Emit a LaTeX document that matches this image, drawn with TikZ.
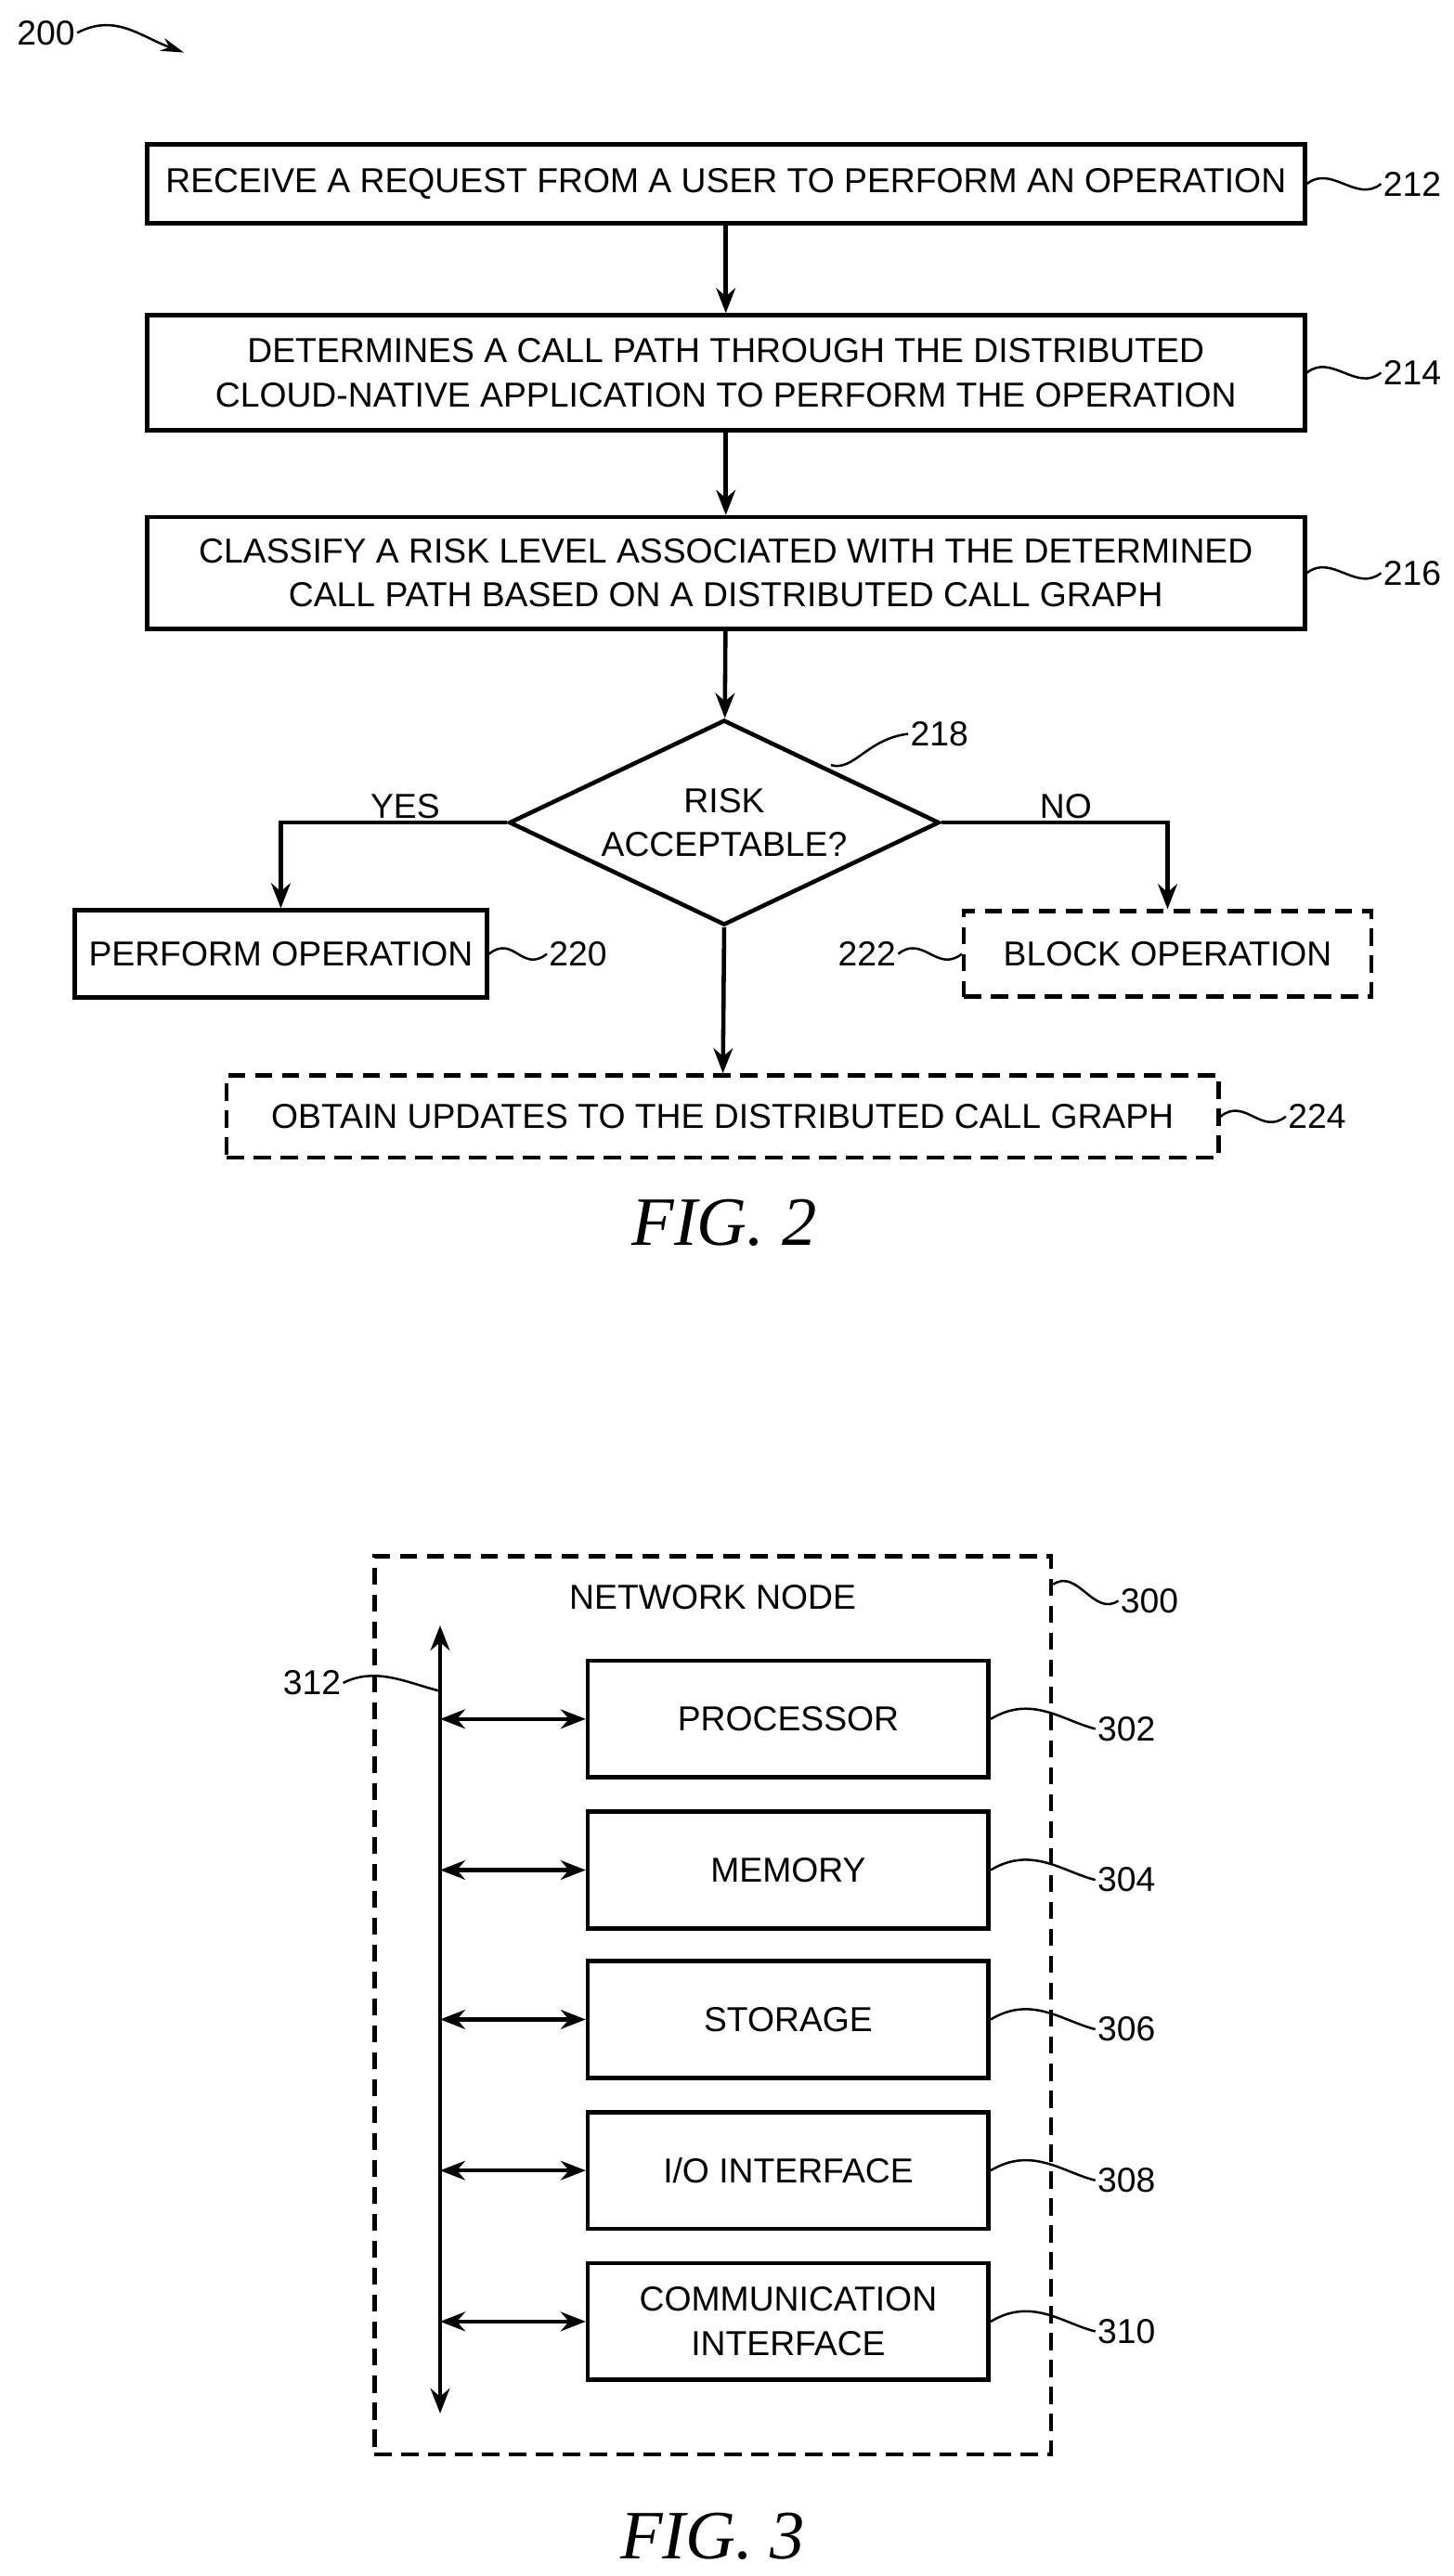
\documentclass[tikz,border=0pt]{standalone}
\usepackage{fontspec}
\setmainfont{Liberation Sans}
\newfontfamily\figfont{Liberation Serif}
\usetikzlibrary{shapes.geometric,positioning,arrows.meta}
\tikzset{
  box/.style={draw, line width=2.2pt, minimum height=1.5cm, align=center, font=\fontsize{18}{23}\selectfont},
  dbox/.style={box, dash pattern=on 9pt off 5pt},
  ref/.style={font=\fontsize{18}{22}\selectfont, inner sep=1pt},
  lead/.style={line width=1.2pt},
  flow/.style={line width=2.2pt, -{Stealth[length=13pt,width=10pt]}},
  bus/.style={line width=2.2pt, {Stealth[length=13pt,width=10pt]}-{Stealth[length=13pt,width=10pt]}},
  figcap/.style={font=\figfont\itshape\fontsize{36}{40}\selectfont}
}
\begin{document}
\begin{tikzpicture}[x=0.03cm, y=-0.03cm]
  \useasboundingbox (0,0) rectangle (885,1569);
  % FIG. 2 flow
  \node[ref] (l200) at (28,20) {200};
  \coordinate (p200) at (112,32);
  \draw[lead, -{Stealth[length=12pt,width=7pt]}] (l200.east) .. controls (70,8) and (85,22) .. (p200);
  \node[box, minimum width=21.15cm, minimum height=1.44cm] (s212) at (442,112) {RECEIVE A REQUEST FROM A USER TO PERFORM AN OPERATION};
  \node[box, minimum width=21.15cm, minimum height=2.1cm] (s214) at (442,227) {DETERMINES A CALL PATH THROUGH THE DISTRIBUTED\\CLOUD-NATIVE APPLICATION TO PERFORM THE OPERATION};
  \node[box, minimum width=21.15cm, minimum height=2.04cm] (s216) at (442,349) {CLASSIFY A RISK LEVEL ASSOCIATED WITH THE DETERMINED\\CALL PATH BASED ON A DISTRIBUTED CALL GRAPH};
  \node[box, diamond, aspect=2.1, inner sep=0pt, minimum width=7.86cm, minimum height=3.75cm] (d218) at (441,501) {RISK\\ACCEPTABLE?};
  \node[box, minimum width=7.53cm, minimum height=1.59cm] (s220) at (171,581) {PERFORM OPERATION};
  \node[dbox, minimum width=7.44cm, minimum height=1.56cm] (s222) at (711,581) {BLOCK OPERATION};
  \node[dbox, minimum width=18.12cm, minimum height=1.5cm] (s224) at (440,680) {OBTAIN UPDATES TO THE DISTRIBUTED CALL GRAPH};
  \draw[flow] (s212) -- (s214);
  \draw[flow] (s214) -- (s216);
  \draw[flow] (s216) -- (d218);
  \draw[flow] (d218.west) -- (171,501) node[ref, pos=0.45, above] {YES} -- (s220);
  \draw[flow] (d218.east) -- (711,501) node[ref, pos=0.55, above] {NO} -- (s222);
  \draw[flow] (d218.south) -- (s224);
  % reference numerals
  \node[ref] (l212) at (860,112) {212};
  \node[ref] (l214) at (860,227) {214};
  \node[ref] (l216) at (860,349) {216};
  \node[ref] (l218) at (572,447) {218};
  \node[ref] (l220) at (352,581) {220};
  \node[ref] (l222) at (528,581) {222};
  \node[ref] (l224) at (802,680) {224};
  \foreach \b/\l in {s212/l212, s214/l214, s216/l216, s220/l220, s224/l224} {
    \draw[lead] (\b.east) .. controls +(15,-12) and +(-15,12) .. (\l.west);
  }
  \draw[lead] (l222.east) .. controls +(15,-12) and +(-15,12) .. (s222.west);
  \draw[lead] (506,466) .. controls (520,470) and (528,450) .. (l218.west);
  \node[figcap] (f2) at (441,745) {FIG. 2};
  % FIG. 3 network node
  \node[dbox, minimum width=12.36cm, minimum height=16.41cm] (n300) at (434,1221.5) {};
  \node[ref] at (434,973) {NETWORK NODE};
  \node[ref] (l300) at (700,975) {300};
  \draw[lead] (n300.north east |- 0,965) .. controls +(15,-10) and +(-15,10) .. (l300.west);
  \coordinate (btop) at (268,990);
  \coordinate (bbot) at (268,1470);
  \draw[bus] (btop) -- (bbot);
  \node[ref] (l312) at (190,1025) {312};
  \draw[lead] (l312.east) .. controls +(20,-10) and +(-20,-5) .. (268,1030);
  \foreach \n/\y/\t/\r in {pr/1047/PROCESSOR/302, me/1139/MEMORY/304, st/1230/STORAGE/306, io/1322/{I/O INTERFACE}/308, co/1414/{COMMUNICATION\\INTERFACE}/310} {
    \node[box, minimum width=7.32cm, minimum height=2.13cm] (\n) at (480,\y) {\t};
    \coordinate (b\n) at (268,\y);
    \draw[bus] (b\n) -- (\n.west);
    \node[ref] (l\n) at (686,\y+6) {\r};
    \draw[lead] (\n.east |- 0,\y) .. controls +(25,-15) and +(-20,-5) .. (l\n.west);
  }
  \node[figcap] (f3) at (434,1545) {FIG. 3};
\end{tikzpicture}
\end{document}
